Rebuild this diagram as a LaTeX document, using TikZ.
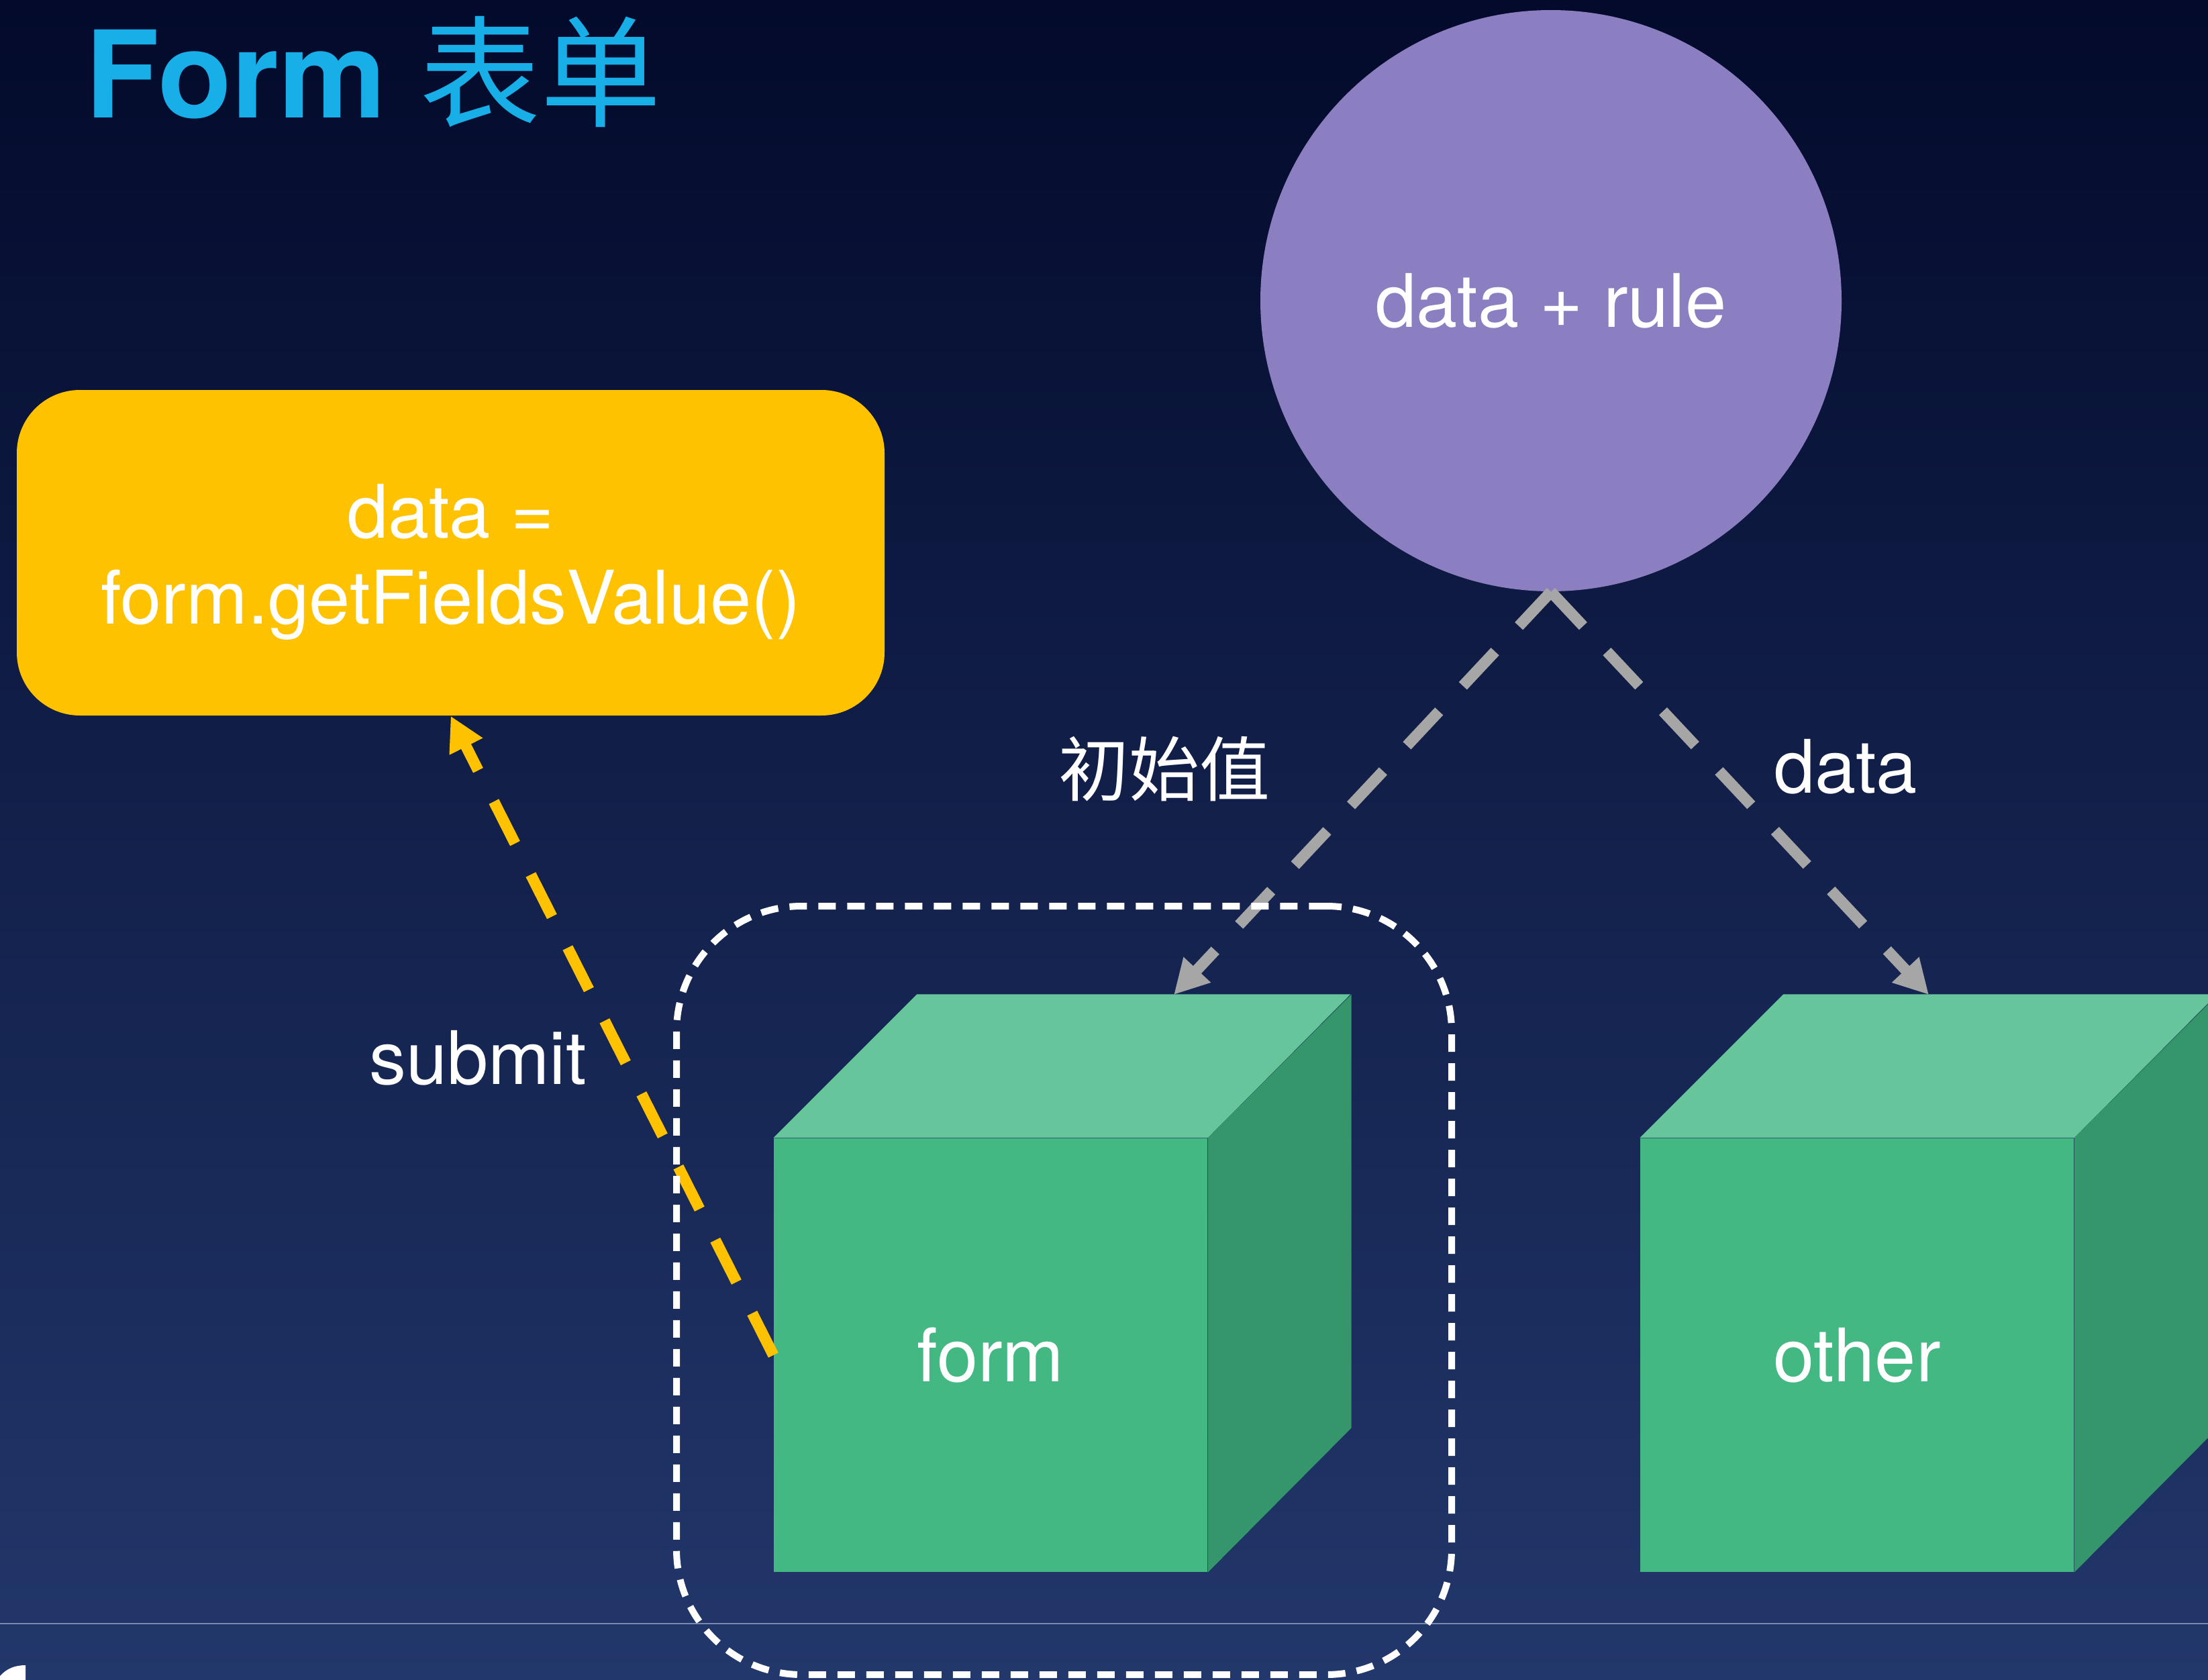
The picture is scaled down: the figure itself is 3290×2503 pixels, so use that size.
\documentclass[tikz,border=0pt]{standalone}
\usepackage{fontspec}
\setmainfont{TeX Gyre Heros}
\newfontfamily\cjk{Noto Sans CJK SC}
\usetikzlibrary{arrows.meta,calc}
\definecolor{bgtop}{HTML}{030A2B}
\definecolor{bgbot}{HTML}{22376B}
\definecolor{titlecyan}{HTML}{18AEE8}
\definecolor{purp}{HTML}{8B7EC1}
\definecolor{ybox}{HTML}{FFC200}
\definecolor{cfront}{HTML}{43B883}
\definecolor{ctop}{HTML}{67C59B}
\definecolor{cside}{HTML}{35956B}
\definecolor{garrow}{HTML}{A6A6A6}
\definecolor{sepline}{HTML}{7888AE}
\tikzset{
  lbl/.style={text=white, font=\fontsize{33}{38.4}\selectfont, inner sep=0pt},
  cjklbl/.style={text=white, font=\cjk\fontsize{31.5}{36}\selectfont, inner sep=0pt},
  face/.style={fill=cfront, minimum width=193.8pt, minimum height=193.8pt, inner sep=0pt,
    text=white, font=\fontsize{33}{38.4}\selectfont},
  gline/.style={draw=garrow, line width=4.95pt, dash pattern=on 21pt off 15.6pt,
    -{Triangle[length=15.3pt,width=15.6pt]}},
  yline/.style={draw=ybox, line width=4.95pt, dash pattern=on 21pt off 15.6pt,
    -{Triangle[length=15.3pt,width=15.6pt]}},
  grpbox/.style={draw=white, line width=3pt, dash pattern=on 7.8pt off 5.1pt,
    rounded corners=56pt, minimum width=346.5pt, minimum height=343.5pt, inner sep=0pt},
}
\begin{document}
\begin{tikzpicture}[x=0.3pt, y=-0.3pt]
\useasboundingbox (0,0) rectangle (3290,2503);
\clip (0,0) rectangle (3290,2503);
% background
\shade[top color=bgtop, bottom color=bgbot] (0,0) rectangle (3290,2503);
\draw[sepline, line width=0.6pt] (0,2419) -- (3290,2419);
% partial glyph at bottom-left
\fill[white] (0,2497) .. controls (10,2486) and (22,2481) .. (38,2481) -- (38,2503) -- (0,2503) -- cycle;
% title
\node[anchor=base west, inner sep=0pt, text=titlecyan] (title) at (127,176)
  {\fontsize{54}{60}\selectfont\bfseries Form {\cjk\mdseries 表单}};
% circle
\node[circle, fill=purp, minimum size=259.8pt, inner sep=0pt, text=white,
  font=\fontsize{33}{38.4}\selectfont] (dr) at (2311,448) {data + rule};
% yellow box
\node[fill=ybox, rounded corners=28.2pt, minimum width=387.9pt, minimum height=145.5pt,
  inner sep=0pt] (getv) at (671.5,823.5) {};
\node[lbl, align=center, anchor=base] (getvtxt) at (671.5,929) {data =\\form.getFieldsValue()};
% cube: form
\node[face] (form) at (1476,2019) {form};
\fill[ctop] (form.north west) -- ++(214,-214) -- ++(646,0) -- (form.north east) -- cycle;
\fill[cside] (form.north east) -- ++(214,-214) -- ++(0,646) -- (form.south east) -- cycle;
% cube: other
\node[face] (other) at (2767,2019) {other};
\fill[ctop] (other.north west) -- ++(214,-214) -- ++(646,0) -- (other.north east) -- cycle;
\fill[cside] (other.north east) -- ++(214,-214) -- ++(0,646) -- (other.south east) -- cycle;
% connectors
\coordinate (formtop) at (1749,1482);
\coordinate (othertop) at (2874,1482);
\draw[gline] (dr.south) -- (formtop);
\draw[gline] (dr.south) -- (othertop);
\draw[yline] (form.west) -- (getv.south);
% group box
\node[grpbox] (grp) at (1585.5,1922.5) {};
% labels
\node[cjklbl, anchor=base] (lblinit) at (1735,1185) {初始值};
\node[lbl, anchor=base] (lbldata) at (2750,1181) {data};
\node[lbl, anchor=base] (lblsubmit) at (712,1615) {submit};
\end{tikzpicture}
\end{document}
